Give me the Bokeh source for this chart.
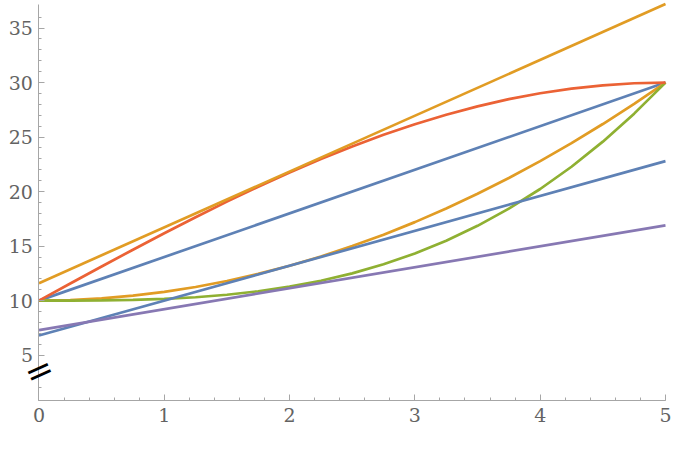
from bokeh.plotting import figure
from bokeh.models import FixedTicker, Label
from bokeh.embed import file_html
from bokeh.resources import INLINE

# ---- data ----
xs_curve = [0, 0.25, 0.5, 0.75, 1, 1.25, 1.5, 1.75, 2, 2.25, 2.5, 2.75, 3, 3.25, 3.5, 3.75, 4, 4.25, 4.5, 4.75, 5]
red_curve = [10, 11.57, 13.13, 14.67, 16.18, 17.65, 19.08, 20.45, 21.76, 22.99, 24.14, 25.21, 26.18,
             27.05, 27.82, 28.48, 29.02, 29.45, 29.75, 29.94, 30]
orange_curve = [10, 10.05, 10.2, 10.45, 10.8, 11.25, 11.8, 12.45, 13.2, 14.05, 15, 16.05, 17.2,
                18.45, 19.8, 21.25, 22.8, 24.45, 26.2, 28.05, 30]
green_curve = [10, 10.0, 10.02, 10.07, 10.16, 10.31, 10.54, 10.86, 11.28, 11.82, 12.5, 13.33, 14.32,
               15.49, 16.86, 18.44, 20.24, 22.28, 24.58, 27.15, 30]
xs_line = [0, 5]
blue_line = [10, 30]
orange_line = [11.6, 37.2]
blue_low_line = [6.8, 22.8]
purple_line = [7.3, 16.9]

x_major = [0, 1, 2, 3, 4, 5]
x_minor = [i * 0.2 for i in range(26)]
y_major = [5, 10, 15, 20, 25, 30, 35]
y_minor = [2] + [v for v in range(6, 37) if v % 5 != 0]
x_axis_at = 0.88      # y value where the x axis sits
y_axis_top = 37.2
break_y = 3.6

BLUE = "#5E81B5"
ORANGE = "#E19C24"
GREEN = "#8FB032"
RED = "#EB6235"
PURPLE = "#8778B3"

p = figure(width=673, height=433, x_range=(-0.307, 5.064), y_range=(-2.19, 37.53),
           output_backend="svg", toolbar_location=None,
           min_border_left=0, min_border_right=0, min_border_top=0, min_border_bottom=0)
p.outline_line_color = None
p.xgrid.grid_line_color = None
p.ygrid.grid_line_color = None
p.background_fill_color = "white"
p.border_fill_color = "white"

lw = 2.7
p.line(xs_line, blue_line, line_color=BLUE, line_width=lw)
p.line(xs_curve, orange_curve, line_color=ORANGE, line_width=lw)
p.line(xs_curve, green_curve, line_color=GREEN, line_width=lw)
p.line(xs_curve, red_curve, line_color=RED, line_width=lw)
p.line(xs_line, orange_line, line_color=ORANGE, line_width=lw)
p.line(xs_line, blue_low_line, line_color=BLUE, line_width=lw)
p.line(xs_line, purple_line, line_color=PURPLE, line_width=lw)

for ax, major, minor in ((p.xaxis[0], x_major, x_minor), (p.yaxis[0], y_major, y_minor)):
    ax.ticker = FixedTicker(ticks=major, minor_ticks=minor)
    ax.axis_line_color = "#a6a6a6"
    ax.major_tick_line_color = "#a6a6a6"
    ax.minor_tick_line_color = "#a6a6a6"
    ax.major_tick_in = 6
    ax.major_tick_out = 0
    ax.minor_tick_in = 3
    ax.minor_tick_out = 0
    ax.major_label_text_font = "DejaVu Serif"
    ax.major_label_text_font_size = "19px"
    ax.major_label_text_color = "#636363"
p.xaxis.major_label_standoff = 8
p.yaxis.major_label_standoff = 6
p.xaxis.fixed_location = x_axis_at
p.yaxis.fixed_location = 0
p.xaxis.bounds = (0, 5)
p.yaxis.bounds = (x_axis_at, y_axis_top)

# axis-break mark
p.add_layout(Label(x=0, y=break_y, text="=", angle=24, angle_units="deg",
                   text_align="center", text_baseline="middle",
                   text_font="DejaVu Sans", text_font_size="34px", text_color="black"))

open("out.html", "w").write(file_html(p, INLINE))
